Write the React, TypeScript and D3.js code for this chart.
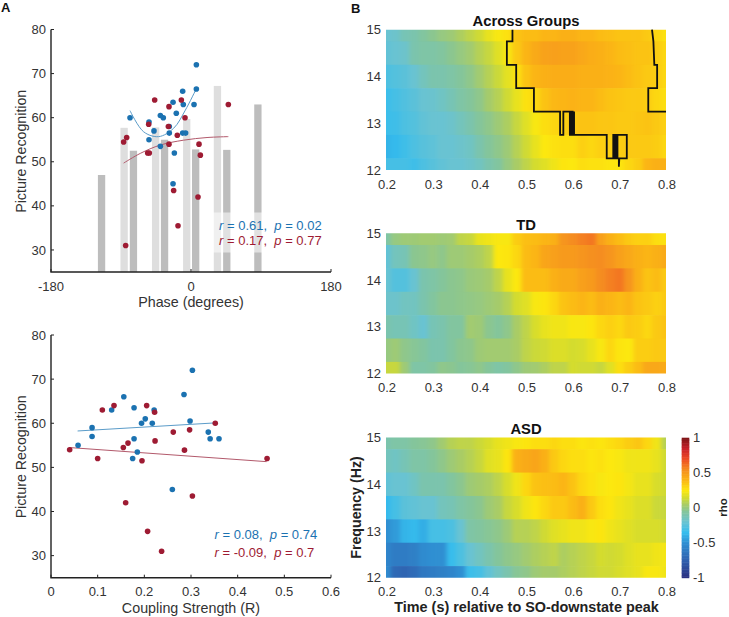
import React from "react";
import * as d3 from "d3";

const INK = "#333333";
const BLUE = "#1b72b1";
const RED = "#9e1b33";
const FONT = "'Liberation Sans', Arial, sans-serif";

// Panel A top: histogram bars (phase centre, height)
const darkBarPhase = [-115, -74, -34, 6, 46, 86];
const darkBarValue = [47, 52.5, 55, 52.8, 52.7, 63];
const lightBarPhase = [-86, -45.5, -5.5, 34];
const lightBarValue = [57.7, 57.8, 59.7, 67.2];

const bluePhase = [-78.4, -54, -47.6, -54, -39.4, -35.6, -27.9, -27.9, -39.4, -21.4, -23.1, -23.1, -18.9, -9.9, -10.7, 3.9, 6.9, 6.9, -10.7, -6.9];
const blueScore = [60, 59, 57, 55, 60.5, 60, 58, 56.5, 53.5, 52, 45, 63.5, 61, 63, 66, 63, 72, 66.5, 56.5, 56.5];
const redPhase = [-86.6, -82.7, -84, -54.4, -55.7, -53.6, -46.7, -28.3, -29.1, -28.3, -12.4, -17.6, -7.7, -22.3, -16.7, 10.3, 12, 9, 48];
const redScore = [54.5, 55.5, 31, 58.5, 52, 52, 64, 62.5, 58, 54, 64, 56, 60, 43.5, 35.5, 54, 51.5, 42, 63];

const blueCurveX = [-78.4, -60.9, -41.6, -22.3, -7.3, 6.9];
const blueCurveY = [61.6, 56.8, 55.7, 57.6, 61.7, 66.6];
const redCurveX = [-86.6, -65.2, -39.4, -9.4, 20.6, 48];
const redCurveY = [49.7, 51.9, 53.8, 54.9, 55.5, 55.7];

// Panel A bottom
const blueCoupling = [0.058, 0.088, 0.088, 0.13, 0.156, 0.178, 0.178, 0.175, 0.185, 0.194, 0.202, 0.217, 0.221, 0.26, 0.285, 0.298, 0.303, 0.337, 0.341, 0.36];
const blueScore2 = [55, 59, 57, 63, 66, 63.5, 56.5, 52, 53.5, 60, 61, 60, 63, 45, 66.5, 60.5, 72, 58, 56.5, 56.5];
const redCoupling = [0.04, 0.11, 0.135, 0.1, 0.155, 0.165, 0.16, 0.195, 0.205, 0.222, 0.223, 0.207, 0.237, 0.262, 0.286, 0.297, 0.303, 0.352, 0.463];
const redScore2 = [54, 63, 64, 52, 54.5, 55.5, 42, 51.5, 64, 62.5, 56, 35.5, 31, 58, 53.9, 58.5, 43.5, 60, 52];
const blueFitX = [0.057, 0.355];
const blueFitY = [58.25, 60.1];
const redFitX = [0.039, 0.462];
const redFitY = [54.5, 51.3];

// Panel B heatmaps
const times = d3.range(31).map((i) => 0.2 + i * 0.02);
const freqs = [15, 14.5, 14, 13.5, 13, 12.5, 12];

const acrossGroups = [
  [-.2,-.18,-.12,-.1,-.06,-.03,0,.02,.06,.1,.14,.2,.24,.27,.36,.38,.38,.4,.4,.42,.42,.4,.4,.38,.37,.36,.36,.36,.34,.3,.27],
  [-.22,-.2,-.18,-.1,-.08,-.08,-.06,-.03,0,.03,.08,.12,.18,.24,.34,.4,.44,.47,.48,.47,.47,.45,.43,.42,.4,.38,.37,.36,.36,.33,.3],
  [-.28,-.26,-.24,-.2,-.14,-.1,-.1,-.08,-.05,-.02,.03,.08,.13,.19,.27,.36,.4,.42,.43,.43,.43,.42,.42,.42,.41,.4,.38,.36,.34,.33,.3],
  [-.33,-.3,-.27,-.24,-.2,-.19,-.16,-.12,-.08,-.05,-.02,.04,.08,.14,.2,.27,.3,.36,.39,.4,.41,.4,.4,.38,.36,.35,.34,.34,.33,.3,.28],
  [-.33,-.32,-.28,-.26,-.22,-.2,-.2,-.18,-.14,-.1,-.05,-.02,.02,.06,.12,.18,.24,.28,.3,.32,.34,.36,.36,.35,.35,.34,.34,.35,.36,.34,.32],
  [-.38,-.36,-.32,-.28,-.25,-.23,-.2,-.2,-.18,-.16,-.1,-.05,-.02,.02,.08,.14,.2,.25,.27,.28,.28,.32,.3,.32,.32,.33,.34,.34,.34,.33,.3],
  [-.3,-.3,-.3,-.32,-.28,-.25,-.22,-.2,-.2,-.18,-.15,-.1,-.06,0,.05,.1,.15,.18,.22,.26,.25,.28,.27,.27,.26,.26,.3,.33,.4,.42,.42],
];
const typicalDev = [
  [-.08,0,.02,.02,.03,.03,.02,.03,.1,.12,.2,.22,.24,.24,.33,.37,.38,.4,.42,.52,.55,.58,.6,.48,.42,.38,.34,.32,.32,.28,.27],
  [-.22,-.14,-.12,-.03,-.02,0,-.02,.02,.02,.04,.06,.1,.25,.26,.3,.38,.4,.46,.48,.5,.5,.52,.54,.55,.52,.48,.45,.42,.4,.42,.44],
  [-.2,-.26,-.26,-.2,-.1,-.08,-.05,-.03,-.02,.01,.02,.04,.1,.2,.25,.38,.38,.38,.42,.44,.44,.48,.5,.55,.58,.6,.52,.42,.36,.38,.34],
  [-.18,-.18,-.15,-.15,-.1,-.06,-.03,-.03,-.02,-.01,0,.02,.04,.08,.15,.18,.24,.26,.3,.36,.38,.4,.38,.42,.4,.38,.4,.36,.34,.32,.34],
  [-.1,-.12,-.12,-.16,-.2,-.12,-.1,-.06,-.06,.03,.02,-.03,-.05,-.02,.05,.1,.16,.2,.22,.22,.24,.24,.26,.3,.32,.3,.34,.33,.3,.34,.36],
  [0,.02,-.02,-.04,-.06,-.1,-.1,-.06,-.03,-.02,.02,.03,.03,.03,.05,.1,.13,.14,.17,.17,.15,.16,.2,.24,.3,.26,.25,.33,.33,.34,.34],
  [.12,.12,.02,-.08,-.08,-.06,-.02,-.03,-.05,-.04,-.02,-.05,-.08,-.06,-.02,.02,.03,.06,.1,.1,.15,.14,.14,.12,.18,.28,.33,.38,.45,.45,.44],
];
const autism = [
  [-.1,-.08,-.08,-.05,-.04,-.02,.03,.08,.1,.1,.13,.16,.2,.22,.24,.26,.28,.28,.3,.28,.28,.26,.27,.26,.28,.3,.33,.35,.3,.22,.08],
  [-.14,-.16,-.12,-.08,-.08,-.05,-.02,.02,.05,.08,.12,.18,.2,.26,.42,.44,.46,.42,.34,.3,.28,.28,.26,.27,.25,.24,.22,.22,.22,.2,.14],
  [-.22,-.2,-.2,-.16,-.1,-.1,-.1,-.06,-.03,.02,.04,.06,.1,.16,.22,.3,.36,.37,.38,.4,.36,.3,.27,.24,.25,.26,.23,.2,.2,.16,.14],
  [-.36,-.3,-.24,-.22,-.2,-.2,-.14,-.12,-.08,-.05,-.03,.02,.05,.12,.16,.22,.26,.3,.34,.34,.38,.42,.34,.28,.26,.22,.2,.17,.17,.13,.12],
  [-.5,-.46,-.38,-.36,-.4,-.3,-.3,-.28,-.2,-.08,-.06,-.04,-.02,.02,.08,.08,.1,.14,.18,.2,.22,.22,.24,.26,.22,.2,.18,.16,.16,.16,.14],
  [-.55,-.6,-.6,-.58,-.52,-.5,-.5,-.34,-.28,-.2,-.15,-.1,-.05,-.02,0,.03,.06,.08,.1,.06,.08,.1,.12,.15,.14,.15,.18,.2,.2,.22,.23],
  [-.52,-.7,-.72,-.68,-.62,-.6,-.58,-.55,-.5,-.33,-.3,-.22,-.15,-.1,-.04,-.02,.02,.04,.04,.06,.08,.1,.12,.14,.14,.16,.18,.2,.24,.24,.22],
];

// Significance contour, [time, frequency]
const contourLeft: [number, number][] = [
  [.471,15],[.471,14.75],[.459,14.75],[.459,14.25],[.479,14.25],[.479,13.75],[.517,13.75],[.517,13.25],
  [.573,13.25],[.573,12.75],[.58,12.75],[.58,13.25],[.594,13.25],[.594,12.75],[.597,12.75],[.597,13.25],[.6,13.25],[.6,12.75],[.603,12.75],[.603,13.25],[.603,12.75],
  [.673,12.75],[.673,12.25],[.687,12.25],[.687,12.75],[.69,12.75],[.69,12.25],[.693,12.25],[.693,12.75],[.696,12.75],[.696,12.25],
  [.699,12.25],[.699,12.07],[.7,12.25],[.716,12.25],[.716,12.75],[.696,12.75],
];
const contourRight: [number, number][] = [
  [.77,15],[.773,14.75],[.775,14.25],[.781,14.25],[.781,13.75],[.762,13.75],[.762,13.25],[.8,13.25],
];

const rhoStops = [-1, -0.75, -0.5, -0.35, -0.2, -0.05, 0.05, 0.15, 0.25, 0.4, 0.55, 0.7, 0.85, 1];
const rhoColors = ["#2a2f80", "#2f5fae", "#2f8fd2", "#35bdee", "#69c3d2", "#84c59b", "#a9cc66", "#d4dc2e", "#fce80f", "#fbb515", "#f58d20", "#ee4c24", "#c8202a", "#7d1416"];
const rhoTicks = [-1, -0.5, 0, 0.5, 1];

const scoreTicks = [30, 40, 50, 60, 70, 80];
const phaseTicks = [-180, 0, 180];
const couplingTicks = [0, 0.1, 0.2, 0.3, 0.4, 0.5, 0.6];
const timeTicks = [0.2, 0.3, 0.4, 0.5, 0.6, 0.7, 0.8];
const freqTicks = [12, 13, 14, 15];

const color = d3.scaleLinear<string>().domain(rhoStops).range(rhoColors).interpolate(d3.interpolateRgb);

const LEFT = 51, RIGHT = 331;

function Txt(p: any) {
  return <text fontFamily={FONT} fill={INK} {...p} />;
}

function ScatterAxes({ x, y, xTicks, xLabel, tickFmt, inward }: any) {
  const [x0, x1] = x.range();
  const y0 = y.range()[0];
  const y1 = y.range()[1];
  return (
    <g>
      <path d={`M${x0},${y1}V${y0}H${x1}`} fill="none" stroke="#222" strokeWidth={1.4} />
      {scoreTicks.map((t) => (
        <g key={t}>
          <line x1={x0} x2={x0 + 3} y1={y(t)} y2={y(t)} stroke="#222" strokeWidth={1} />
          <Txt x={x0 - 5} y={y(t)} dy="0.35em" textAnchor="end" fontSize={13}>{t}</Txt>
        </g>
      ))}
      {xTicks.map((t: number) => (
        <g key={t}>
          <line x1={x(t)} x2={x(t)} y1={y0} y2={y0 - inward} stroke="#222" strokeWidth={1} />
          <Txt x={x(t)} y={y0 + 18.5} textAnchor="middle" fontSize={13}>{tickFmt(t)}</Txt>
        </g>
      ))}
      <Txt x={(x0 + x1) / 2} y={y0 + 35} textAnchor="middle" fontSize={14.3}>{xLabel}</Txt>
      <Txt transform={`translate(${x0 - 25},${(y0 + y1) / 2 + 0.5}) rotate(-90)`} textAnchor="middle" fontSize={14.2}>Picture Recognition</Txt>
    </g>
  );
}

function Stat({ x, y, fill, r, p }: any) {
  return (
    <text x={x} y={y} fontFamily={FONT} fontSize={13} fill={fill} xmlSpace="preserve">
      <tspan fontStyle="italic">r</tspan>
      <tspan>{` = ${r},  `}</tspan>
      <tspan fontStyle="italic">p</tspan>
      <tspan>{` = ${p}`}</tspan>
    </text>
  );
}

function Dots({ xs, ys, x, y, fill }: any) {
  return (
    <g>
      {xs.map((v: number, i: number) => (
        <circle key={i} cx={x(v)} cy={y(ys[i])} r={2.8} fill={fill} />
      ))}
    </g>
  );
}

function Heat({ id, top, title, matrix, contours, titleY }: any) {
  const x = d3.scaleLinear().domain([0.2, 0.8]).range([386, 666]);
  const y = d3.scaleLinear().domain([15, 12]).range([top, top + 140.3]);
  const dt = 0.01;
  const df = 0.25;
  const line = d3.line<[number, number]>().x((d) => x(d[0])).y((d) => y(d[1]));
  return (
    <g>
      <Txt x={526} y={titleY} textAnchor="middle" fontSize={14.8} fontWeight="bold" fill="#111">{title}</Txt>
      <clipPath id={id}>
        <rect x={386} y={top} width={280} height={140.3} />
      </clipPath>
      <g clipPath={`url(#${id})`}>
        <g filter="url(#soften)">
          {matrix.map((row: number[], r: number) =>
            row.map((v, c) => {
              const xa = c === 0 ? 376 : x(times[c] - dt);
              const xb = c === 30 ? 676 : x(times[c] + dt);
              const ya = r === 0 ? top - 10 : y(freqs[r] + df);
              const yb = r === 6 ? top + 150 : y(freqs[r] - df);
              return (
                <rect key={`${r}-${c}`} x={xa} y={ya} width={xb - xa + 0.6} height={yb - ya + 0.6} fill={color(v)} />
              );
            })
          )}
        </g>
      </g>
      {contours && contours.map((c: [number, number][], i: number) => (
        <path key={i} d={line(c) as string} fill="none" stroke="#111" strokeWidth={1.8} />
      ))}
      {timeTicks.map((t) => (
        <Txt key={t} x={x(t) + 1} y={top + 140.3 + 18.5} textAnchor="middle" fontSize={13}>{t.toFixed(1)}</Txt>
      ))}
      {freqTicks.map((f) => (
        <Txt key={f} x={381} y={y(f)} dy="0.35em" textAnchor="end" fontSize={13}>{f}</Txt>
      ))}
    </g>
  );
}

export default function App() {
  const x1 = d3.scaleLinear().domain([-180, 180]).range([LEFT, RIGHT]);
  const y1 = d3.scaleLinear().domain([25, 80]).range([272, 29.5]);
  const x2 = d3.scaleLinear().domain([0, 0.6]).range([LEFT, RIGHT]);
  const y2 = d3.scaleLinear().domain([25, 80]).range([577.7, 335]);
  const barW = 7.3;
  const curve = d3.line<number>().curve(d3.curveCatmullRom);
  const blueCurve = curve.x((v) => x1(v)).y((_, i) => y1(blueCurveY[i]))(blueCurveX);
  const redCurve = curve.x((v) => x1(v)).y((_, i) => y1(redCurveY[i]))(redCurveX);
  const cbY = d3.scaleLinear().domain([-1, 1]).range([577.7, 437.7]);
  const cbSteps = d3.range(-1, 1, 0.02);

  return (
    <svg width={729} height={617} style={{ position: "absolute", left: 0, top: 0, background: "#fff" }}>
      <defs>
        <filter id="soften" x="-5%" y="-5%" width="110%" height="110%" colorInterpolationFilters="sRGB">
          <feGaussianBlur stdDeviation="2 0.4" />
        </filter>
      </defs>
      <text x={1} y={12} fontFamily={FONT} fontWeight="bold" fontSize={13} fill="#111">A</text>
      <text x={351} y={13} fontFamily={FONT} fontWeight="bold" fontSize={13} fill="#111">B</text>

      {/* Phase panel */}
      {darkBarPhase.map((p, i) => (
        <rect key={p} x={x1(p) - barW / 2} y={y1(darkBarValue[i])} width={barW} height={y1(25) - y1(darkBarValue[i])} fill="#bdbdbd" />
      ))}
      {lightBarPhase.map((p, i) => (
        <rect key={p} x={x1(p) - barW / 2} y={y1(lightBarValue[i])} width={barW} height={y1(25) - y1(lightBarValue[i])} fill="#dedede" />
      ))}
      <rect x={213} y={212.5} width={60} height={40} fill="#fff" fillOpacity={0.55} />
      <ScatterAxes x={x1} y={y1} xTicks={phaseTicks} xLabel="Phase (degrees)" tickFmt={(t: number) => String(t)} inward={3} />
      <path d={blueCurve as string} fill="none" stroke="#5b9cc9" strokeWidth={1} />
      <path d={redCurve as string} fill="none" stroke="#b2596b" strokeWidth={1} />
      <Dots xs={bluePhase} ys={blueScore} x={x1} y={y1} fill={BLUE} />
      <Dots xs={redPhase} ys={redScore} x={x1} y={y1} fill={RED} />
      <Stat x={219} y={229.5} fill={BLUE} r="0.61" p="0.02" />
      <Stat x={219} y={245} fill={RED} r="0.17" p="0.77" />

      {/* Coupling panel */}
      <ScatterAxes x={x2} y={y2} xTicks={couplingTicks} xLabel="Coupling Strength (R)" tickFmt={(t: number) => String(t)} inward={3} />
      <line x1={x2(blueFitX[0])} x2={x2(blueFitX[1])} y1={y2(blueFitY[0])} y2={y2(blueFitY[1])} stroke="#5b9cc9" strokeWidth={1} />
      <line x1={x2(redFitX[0])} x2={x2(redFitX[1])} y1={y2(redFitY[0])} y2={y2(redFitY[1])} stroke="#b2596b" strokeWidth={1} />
      <Dots xs={blueCoupling} ys={blueScore2} x={x2} y={y2} fill={BLUE} />
      <Dots xs={redCoupling} ys={redScore2} x={x2} y={y2} fill={RED} />
      <Stat x={214.5} y={539} fill={BLUE} r="0.08" p="0.74" />
      <Stat x={214.5} y={557} fill={RED} r="-0.09" p="0.7" />

      {/* Heatmaps */}
      <Heat id="h1" top={29.7} title="Across Groups" matrix={acrossGroups} contours={[contourLeft, contourRight]} titleY={26} />
      <Heat id="h2" top={233.3} title="TD" matrix={typicalDev} titleY={230} />
      <Heat id="h3" top={437.5} title="ASD" matrix={autism} titleY={434} />

      <Txt x={526.5} y={612} textAnchor="middle" fontSize={14.4} fontWeight="bold" fill="#222">Time (s) relative to SO-downstate peak</Txt>
      <Txt transform="translate(361,507.5) rotate(-90)" textAnchor="middle" fontSize={14.2} fontWeight="bold" fill="#222">Frequency (Hz)</Txt>

      {/* Colour bar */}
      {cbSteps.map((v) => (
        <rect key={v} x={681.7} y={cbY(v + 0.02)} width={7.6} height={cbY(v) - cbY(v + 0.02) + 0.5} fill={color(v + 0.01)} />
      ))}
      {rhoTicks.map((t) => (
        <Txt key={t} x={693} y={cbY(t)} dy="0.35em" fontSize={13}>{t}</Txt>
      ))}
      <Txt transform="translate(728,507.5) rotate(-90)" textAnchor="middle" fontSize={11.5} fontWeight="bold" fill="#222" dy="-1">rho</Txt>
    </svg>
  );
}
